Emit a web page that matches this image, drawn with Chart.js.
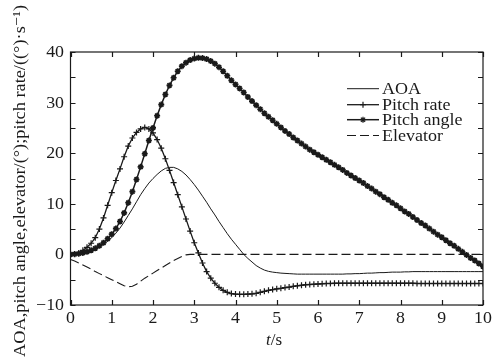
<!DOCTYPE html>
<html>
<head>
<meta charset="utf-8">
<script src="https://cdn.jsdelivr.net/npm/chart.js@4"></script>
<style>
  html, body { margin: 0; padding: 0; background: #fff; }
</style>
</head>
<body>
<canvas id="chart" width="493" height="360"></canvas>
<script>
const timeS = [
    0, 0.1, 0.2, 0.3, 0.4, 0.5, 0.6, 0.7, 0.8, 0.9,
    1, 1.1, 1.2, 1.3, 1.4, 1.5, 1.6, 1.7, 1.8, 1.9,
    2, 2.1, 2.2, 2.3, 2.4, 2.5, 2.6, 2.7, 2.8, 2.9,
    3, 3.1, 3.2, 3.3, 3.4, 3.5, 3.6, 3.7, 3.8, 3.9,
    4, 4.1, 4.2, 4.3, 4.4, 4.5, 4.6, 4.7, 4.8, 4.9,
    5, 5.1, 5.2, 5.3, 5.4, 5.5, 5.6, 5.7, 5.8, 5.9,
    6, 6.1, 6.2, 6.3, 6.4, 6.5, 6.6, 6.7, 6.8, 6.9,
    7, 7.1, 7.2, 7.3, 7.4, 7.5, 7.6, 7.7, 7.8, 7.9,
    8, 8.1, 8.2, 8.3, 8.4, 8.5, 8.6, 8.7, 8.8, 8.9,
    9, 9.1, 9.2, 9.3, 9.4, 9.5, 9.6, 9.7, 9.8, 9.9, 10
];

const aoa = [
    0, 0.02, 0.1, 0.2, 0.4, 0.6, 1.0, 1.4, 2.0, 2.6,
    3.3, 4.2, 5.2, 6.4, 7.7, 9.0, 10.4, 11.8, 13.0, 14.1,
    15.0, 15.8, 16.5, 17.0, 17.2, 17.2, 16.9, 16.4, 15.7, 14.8,
    13.8, 12.7, 11.5, 10.3, 9.0, 7.8, 6.5, 5.3, 4.1, 3.0,
    2.0, 1.0, 0.0, -0.8, -1.5, -2.2, -2.7, -3.1, -3.35, -3.5,
    -3.6, -3.7, -3.75, -3.8, -3.85, -3.9, -3.9, -3.9, -3.9, -3.9,
    -3.9, -3.9, -3.9, -3.9, -3.9, -3.9, -3.9, -3.85, -3.85, -3.8,
    -3.8, -3.75, -3.7, -3.7, -3.65, -3.6, -3.6, -3.55, -3.5, -3.5,
    -3.5, -3.45, -3.45, -3.4, -3.4, -3.4, -3.4, -3.4, -3.4, -3.4,
    -3.4, -3.4, -3.4, -3.4, -3.4, -3.4, -3.4, -3.4, -3.4, -3.4, -3.4
];

const pitchRate = [
    0, 0.1, 0.3, 0.8, 1.4, 2.2, 3.3, 5.0, 7.2, 9.7,
    12.2, 14.6, 16.9, 19.3, 21.4, 23.0, 24.1, 24.8, 25.1, 24.8,
    24.0, 22.7, 21.0, 18.9, 16.6, 14.2, 11.8, 9.4, 7.0, 4.6,
    2.3, 0.3, -1.7, -3.4, -4.7, -5.7, -6.5, -7.1, -7.5, -7.75,
    -7.85, -7.9, -7.9, -7.85, -7.8, -7.7, -7.5, -7.3, -7.1, -6.95,
    -6.8, -6.7, -6.55, -6.45, -6.3, -6.2, -6.1, -6.0, -5.95, -5.9,
    -5.85, -5.8, -5.75, -5.75, -5.7, -5.7, -5.7, -5.7, -5.7, -5.7,
    -5.7, -5.7, -5.7, -5.7, -5.7, -5.7, -5.7, -5.7, -5.7, -5.7,
    -5.7, -5.7, -5.7, -5.7, -5.75, -5.75, -5.75, -5.75, -5.75, -5.75,
    -5.75, -5.75, -5.75, -5.75, -5.75, -5.75, -5.75, -5.75, -5.75, -5.75, -5.75
];

const pitchAngle = [
    0, 0.05, 0.15, 0.3, 0.5, 0.8, 1.2, 1.7, 2.3, 3.1,
    4.0, 5.1, 6.5, 8.2, 10.2, 12.4, 14.8, 17.3, 19.9, 22.5,
    25.0, 27.4, 29.6, 31.6, 33.4, 34.9, 36.2, 37.2, 37.9, 38.4,
    38.7, 38.85, 38.8, 38.6, 38.2, 37.7, 37.0, 36.2, 35.3, 34.4,
    33.6, 32.8, 32.0, 31.1, 30.3, 29.5, 28.7, 27.9, 27.2, 26.5,
    25.8, 25.1, 24.4, 23.8, 23.1, 22.5, 21.9, 21.3, 20.7, 20.2,
    19.7, 19.2, 18.7, 18.2, 17.7, 17.2, 16.7, 16.1, 15.6, 15.1,
    14.6, 14.1, 13.5, 13.0, 12.4, 11.9, 11.3, 10.8, 10.2, 9.7,
    9.1, 8.5, 8.0, 7.4, 6.8, 6.2, 5.7, 5.1, 4.5, 3.9,
    3.4, 2.8, 2.2, 1.7, 1.1, 0.5, -0.1, -0.7, -1.2, -1.8, -2.4
];

const elevator = [
    -1.0, -1.3, -1.7, -2.1, -2.5, -2.9, -3.4, -3.8, -4.2, -4.6,
    -5.0, -5.4, -5.8, -6.2, -6.4, -6.3, -5.9, -5.3, -4.7, -4.2,
    -3.7, -3.2, -2.7, -2.2, -1.7, -1.2, -0.8, -0.4, -0.1, 0,
    0, 0, 0, 0, 0, 0, 0, 0, 0, 0,
    0, 0, 0, 0, 0, 0, 0, 0, 0, 0,
    0, 0, 0, 0, 0, 0, 0, 0, 0, 0,
    0, 0, 0, 0, 0, 0, 0, 0, 0, 0,
    0, 0, 0, 0, 0, 0, 0, 0, 0, 0,
    0, 0, 0, 0, 0, 0, 0, 0, 0, 0,
    0, 0, 0, 0, 0, 0, 0, 0, 0, 0, 0
];

const seriesNames = ['AOA', 'Pitch rate', 'Pitch angle', 'Elevator'];
const xTicks = [0, 1, 2, 3, 4, 5, 6, 7, 8, 9, 10];
const yTicks = [-10, -5, 0, 5, 10, 15, 20, 25, 30, 35, 40];
const yTickLabels = [-10, 0, 10, 20, 30, 40];
const yTitle = 'AOA,pitch angle,elevator/(°);pitch rate/((°)·s⁻¹)';

const ink = '#1a1a1a';
const serif = '"Liberation Serif", "DejaVu Serif", serif';
const font = '17px ' + serif;

function toPoints(values) {
    return values.map((v, i) => ({ x: timeS[i], y: v }));
}

function wideText(ctx, text, x, y, sx, align) {
    ctx.save();
    ctx.translate(x, y);
    ctx.scale(sx, 1);
    ctx.textAlign = align;
    ctx.fillText(text, 0, 0);
    ctx.restore();
}

// frame, inward ticks on all sides, all text and the legend
const framePlugin = {
    id: 'frame',
    afterDraw(chart) {
        const ctx = chart.ctx;
        const a = chart.chartArea;
        const xs = chart.scales.x;
        const ys = chart.scales.y;
        ctx.save();
        ctx.strokeStyle = ink;
        ctx.lineWidth = 1.2;
        ctx.strokeRect(a.left, a.top, a.right - a.left, a.bottom - a.top);
        ctx.beginPath();
        xTicks.forEach(v => {
            const px = Math.round(xs.getPixelForValue(v)) + 0.5;
            ctx.moveTo(px, a.bottom); ctx.lineTo(px, a.bottom - 5);
            ctx.moveTo(px, a.top); ctx.lineTo(px, a.top + 5);
        });
        yTicks.forEach(v => {
            const py = Math.round(ys.getPixelForValue(v)) + 0.5;
            ctx.moveTo(a.left, py); ctx.lineTo(a.left + 5, py);
            ctx.moveTo(a.right, py); ctx.lineTo(a.right - 5, py);
        });
        ctx.stroke();

        ctx.fillStyle = ink;
        ctx.font = font;

        // tick labels
        ctx.textBaseline = 'alphabetic';
        xTicks.forEach(v => {
            wideText(ctx, String(v), xs.getPixelForValue(v), 323, 1.05, 'center');
        });
        ctx.textBaseline = 'middle';
        yTickLabels.forEach(v => {
            wideText(ctx, String(v).replace('-', '\u2212'), 64, ys.getPixelForValue(v) + 0.5, 1.05, 'right');
        });

        // x axis title, t in italic
        ctx.textBaseline = 'alphabetic';
        ctx.font = 'italic ' + font;
        const tW = ctx.measureText('t').width;
        ctx.font = font;
        const sW = ctx.measureText('/s').width;
        const x0 = 274 - (tW + sW) / 2;
        ctx.font = 'italic ' + font;
        ctx.fillText('t', x0, 345);
        ctx.font = font;
        ctx.fillText('/s', x0 + tW, 345);

        // y axis title, rotated and fitted to its length in the reference
        ctx.save();
        ctx.translate(25, 181);
        ctx.rotate(-Math.PI / 2);
        const w = ctx.measureText(yTitle).width;
        ctx.scale(352 / w, 1);
        ctx.textAlign = 'center';
        ctx.fillText(yTitle, 0, 0);
        ctx.restore();

        // legend
        const rows = [88.7, 104.7, 119.7, 135.5];
        const bases = [94, 110, 125, 141];
        chart.data.datasets.forEach((ds, i) => {
            const y = rows[i];
            ctx.save();
            ctx.strokeStyle = ink;
            ctx.lineWidth = ds.borderWidth;
            ctx.setLineDash(ds.borderDash || []);
            ctx.beginPath();
            ctx.moveTo(347, y); ctx.lineTo(379, y);
            ctx.stroke();
            ctx.restore();
            if (ds.pointRadius > 0) {
                ctx.save();
                ctx.strokeStyle = ink;
                ctx.fillStyle = ink;
                Chart.helpers.drawPoint(ctx, {
                    pointStyle: ds.pointStyle,
                    radius: ds.pointRadius,
                    rotation: 0,
                    borderWidth: ds.pointBorderWidth
                }, 363, y);
                ctx.restore();
            }
            ctx.fillStyle = ink;
            ctx.font = font;
            ctx.textBaseline = 'alphabetic';
            wideText(ctx, ds.label, 382, bases[i], 1.06, 'left');
        });
        ctx.restore();
    }
};

const ctx = document.getElementById('chart').getContext('2d');
new Chart(ctx, {
    type: 'line',
    data: {
        datasets: [
            {
                label: seriesNames[0],
                data: toPoints(aoa),
                borderColor: ink,
                borderWidth: 1,
                pointRadius: 0
            },
            {
                label: seriesNames[1],
                data: toPoints(pitchRate),
                borderColor: ink,
                borderWidth: 1.3,
                pointStyle: 'cross',
                pointRadius: 3,
                pointBorderWidth: 1.2,
                pointBorderColor: ink
            },
            {
                label: seriesNames[2],
                data: toPoints(pitchAngle),
                borderColor: ink,
                borderWidth: 1.5,
                pointStyle: 'star',
                pointRadius: 3,
                pointBorderWidth: 1.6,
                pointBorderColor: ink
            },
            {
                label: seriesNames[3],
                data: toPoints(elevator),
                borderColor: ink,
                borderWidth: 1.1,
                borderDash: [9, 4],
                pointRadius: 0
            }
        ]
    },
    options: {
        responsive: false,
        animation: false,
        devicePixelRatio: 1,
        layout: { padding: { top: 52, right: 10, left: 0, bottom: 0 } },
        elements: { line: { tension: 0 } },
        plugins: {
            legend: { display: false },
            tooltip: { enabled: false }
        },
        scales: {
            x: {
                type: 'linear',
                min: 0,
                max: 10,
                grid: { display: false },
                border: { display: false },
                ticks: { display: false, stepSize: 1 },
                afterFit: function (scale) { scale.height = 55; }
            },
            y: {
                min: -10,
                max: 40,
                grid: { display: false },
                border: { display: false },
                ticks: { display: false, stepSize: 10 },
                afterFit: function (scale) { scale.width = 70.5; }
            }
        }
    },
    plugins: [framePlugin]
});
</script>
</body>
</html>
